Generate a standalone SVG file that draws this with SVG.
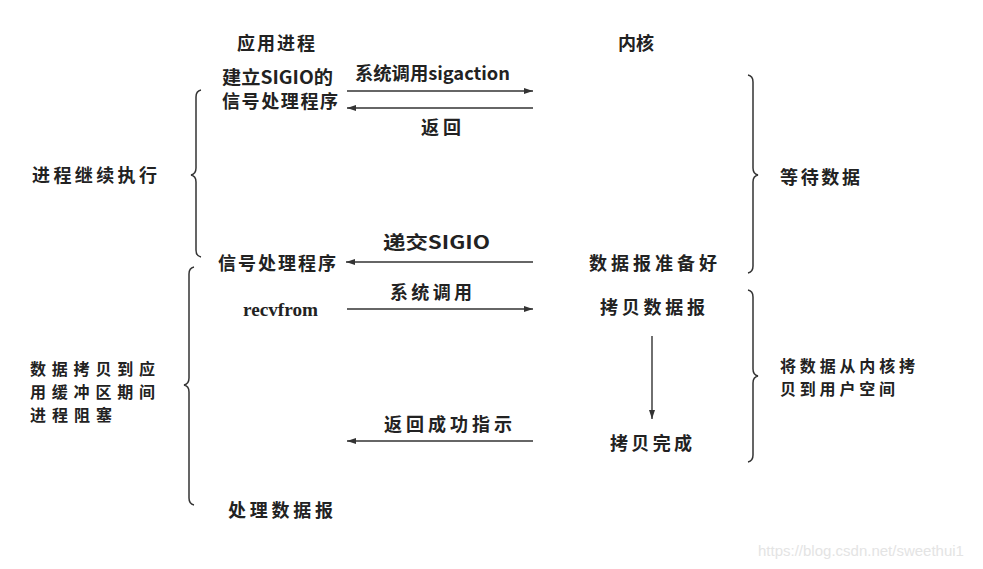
<svg xmlns="http://www.w3.org/2000/svg" width="983" height="569" viewBox="0 0 983 569">
<style>
text{font-family:"Noto Sans CJK SC","Liberation Serif",sans-serif;font-size:18px;fill:#222;font-weight:bold}
.en{font-family:"Liberation Serif","Noto Sans CJK SC",serif;font-weight:bold}
.ml{font-size:16px}
.ln{stroke:#333;stroke-width:1.4;fill:none}
.br{stroke:#333;stroke-width:1.5;fill:none}
.wm{font-family:"Liberation Sans",sans-serif;font-size:15px;fill:#e4e4e4;font-weight:normal}
</style>
<defs>
<marker id="ah" markerWidth="10" markerHeight="8" refX="9" refY="4" orient="auto" markerUnits="userSpaceOnUse">
<path d="M0,1 L9,4 L0,7 Z" fill="#333"/>
</marker>
</defs>
<rect width="983" height="569" fill="#fff"/>
<g id="header-app"><text x="276" y="50" text-anchor="middle" textLength="78" lengthAdjust="spacing">应用进程</text></g>
<g id="header-kernel"><text x="636" y="50" text-anchor="middle">内核</text></g>
<g id="n-setup"><text x="222" y="84" textLength="111" lengthAdjust="spacingAndGlyphs">建立SIGIO的</text><text x="222" y="108" textLength="116" lengthAdjust="spacing">信号处理程序</text></g>
<g id="n-handler"><text x="218" y="270" textLength="118" lengthAdjust="spacing">信号处理程序</text></g>
<g id="n-recvfrom"><text class="en" x="243" y="316" textLength="75" lengthAdjust="spacingAndGlyphs">recvfrom</text></g>
<g id="n-process"><text x="228" y="517" textLength="105" lengthAdjust="spacing">处理数据报</text></g>
<g id="n-ready"><text x="589" y="270" textLength="128" lengthAdjust="spacing">数据报准备好</text></g>
<g id="n-copy"><text x="600" y="314" textLength="105" lengthAdjust="spacing">拷贝数据报</text></g>
<g id="n-done"><text x="610" y="450" textLength="82" lengthAdjust="spacing">拷贝完成</text></g>
<g id="label-continue"><text x="32" y="182" textLength="125" lengthAdjust="spacing">进程继续执行</text></g>
<g id="label-blocked"><text class="ml" x="30" y="375" textLength="125" lengthAdjust="spacing">数据拷贝到应</text><text class="ml" x="30" y="398" textLength="125" lengthAdjust="spacing">用缓冲区期间</text><text class="ml" x="30" y="421" textLength="82" lengthAdjust="spacing">进程阻塞</text></g>
<g id="label-wait"><text x="780" y="184" textLength="80" lengthAdjust="spacing">等待数据</text></g>
<g id="label-copy"><text class="ml" x="780" y="372" textLength="135" lengthAdjust="spacing">将数据从内核拷</text><text class="ml" x="780" y="395" textLength="115" lengthAdjust="spacing">贝到用户空间</text></g>
<g id="connectors">
<line class="ln" x1="347" y1="91" x2="533" y2="91" marker-end="url(#ah)"/>
<text x="355" y="80" textLength="155" lengthAdjust="spacingAndGlyphs">系统调用sigaction</text>
<line class="ln" x1="533" y1="108" x2="347" y2="108" marker-end="url(#ah)"/>
<text x="421" y="134" textLength="40" lengthAdjust="spacing">返回</text>
<line class="ln" x1="533" y1="262" x2="346" y2="262" marker-end="url(#ah)"/>
<text x="383" y="249" textLength="107" lengthAdjust="spacingAndGlyphs">递交SIGIO</text>
<line class="ln" x1="347" y1="309" x2="533" y2="309" marker-end="url(#ah)"/>
<text x="390" y="299" textLength="82" lengthAdjust="spacing">系统调用</text>
<line class="ln" x1="652" y1="336" x2="652" y2="419" marker-end="url(#ah)"/>
<line class="ln" x1="533" y1="441" x2="347" y2="441" marker-end="url(#ah)"/>
<text x="384" y="431" textLength="128" lengthAdjust="spacing">返回成功指示</text>
</g>
<g id="braces">
<path class="br" d="M201,90 Q196,91 196,97 L196,168 Q196,174 191,175 Q196,176 196,182 L196,250 Q196,256 201,257"/>
<path class="br" d="M194,267 Q189,268 189,274 L189,378 Q189,384 184,385 Q189,386 189,392 L189,498 Q189,504 194,505"/>
<path class="br" d="M748,75 Q753,76 753,82 L753,168 Q753,174 758,175 Q753,176 753,182 L753,266 Q753,272 748,273"/>
<path class="br" d="M748,290 Q753,291 753,297 L753,369 Q753,375 758,376 Q753,377 753,383 L753,455 Q753,461 748,462"/>
</g>
<text class="wm" x="758" y="556">https://blog.csdn.net/sweethui1</text>
</svg>
